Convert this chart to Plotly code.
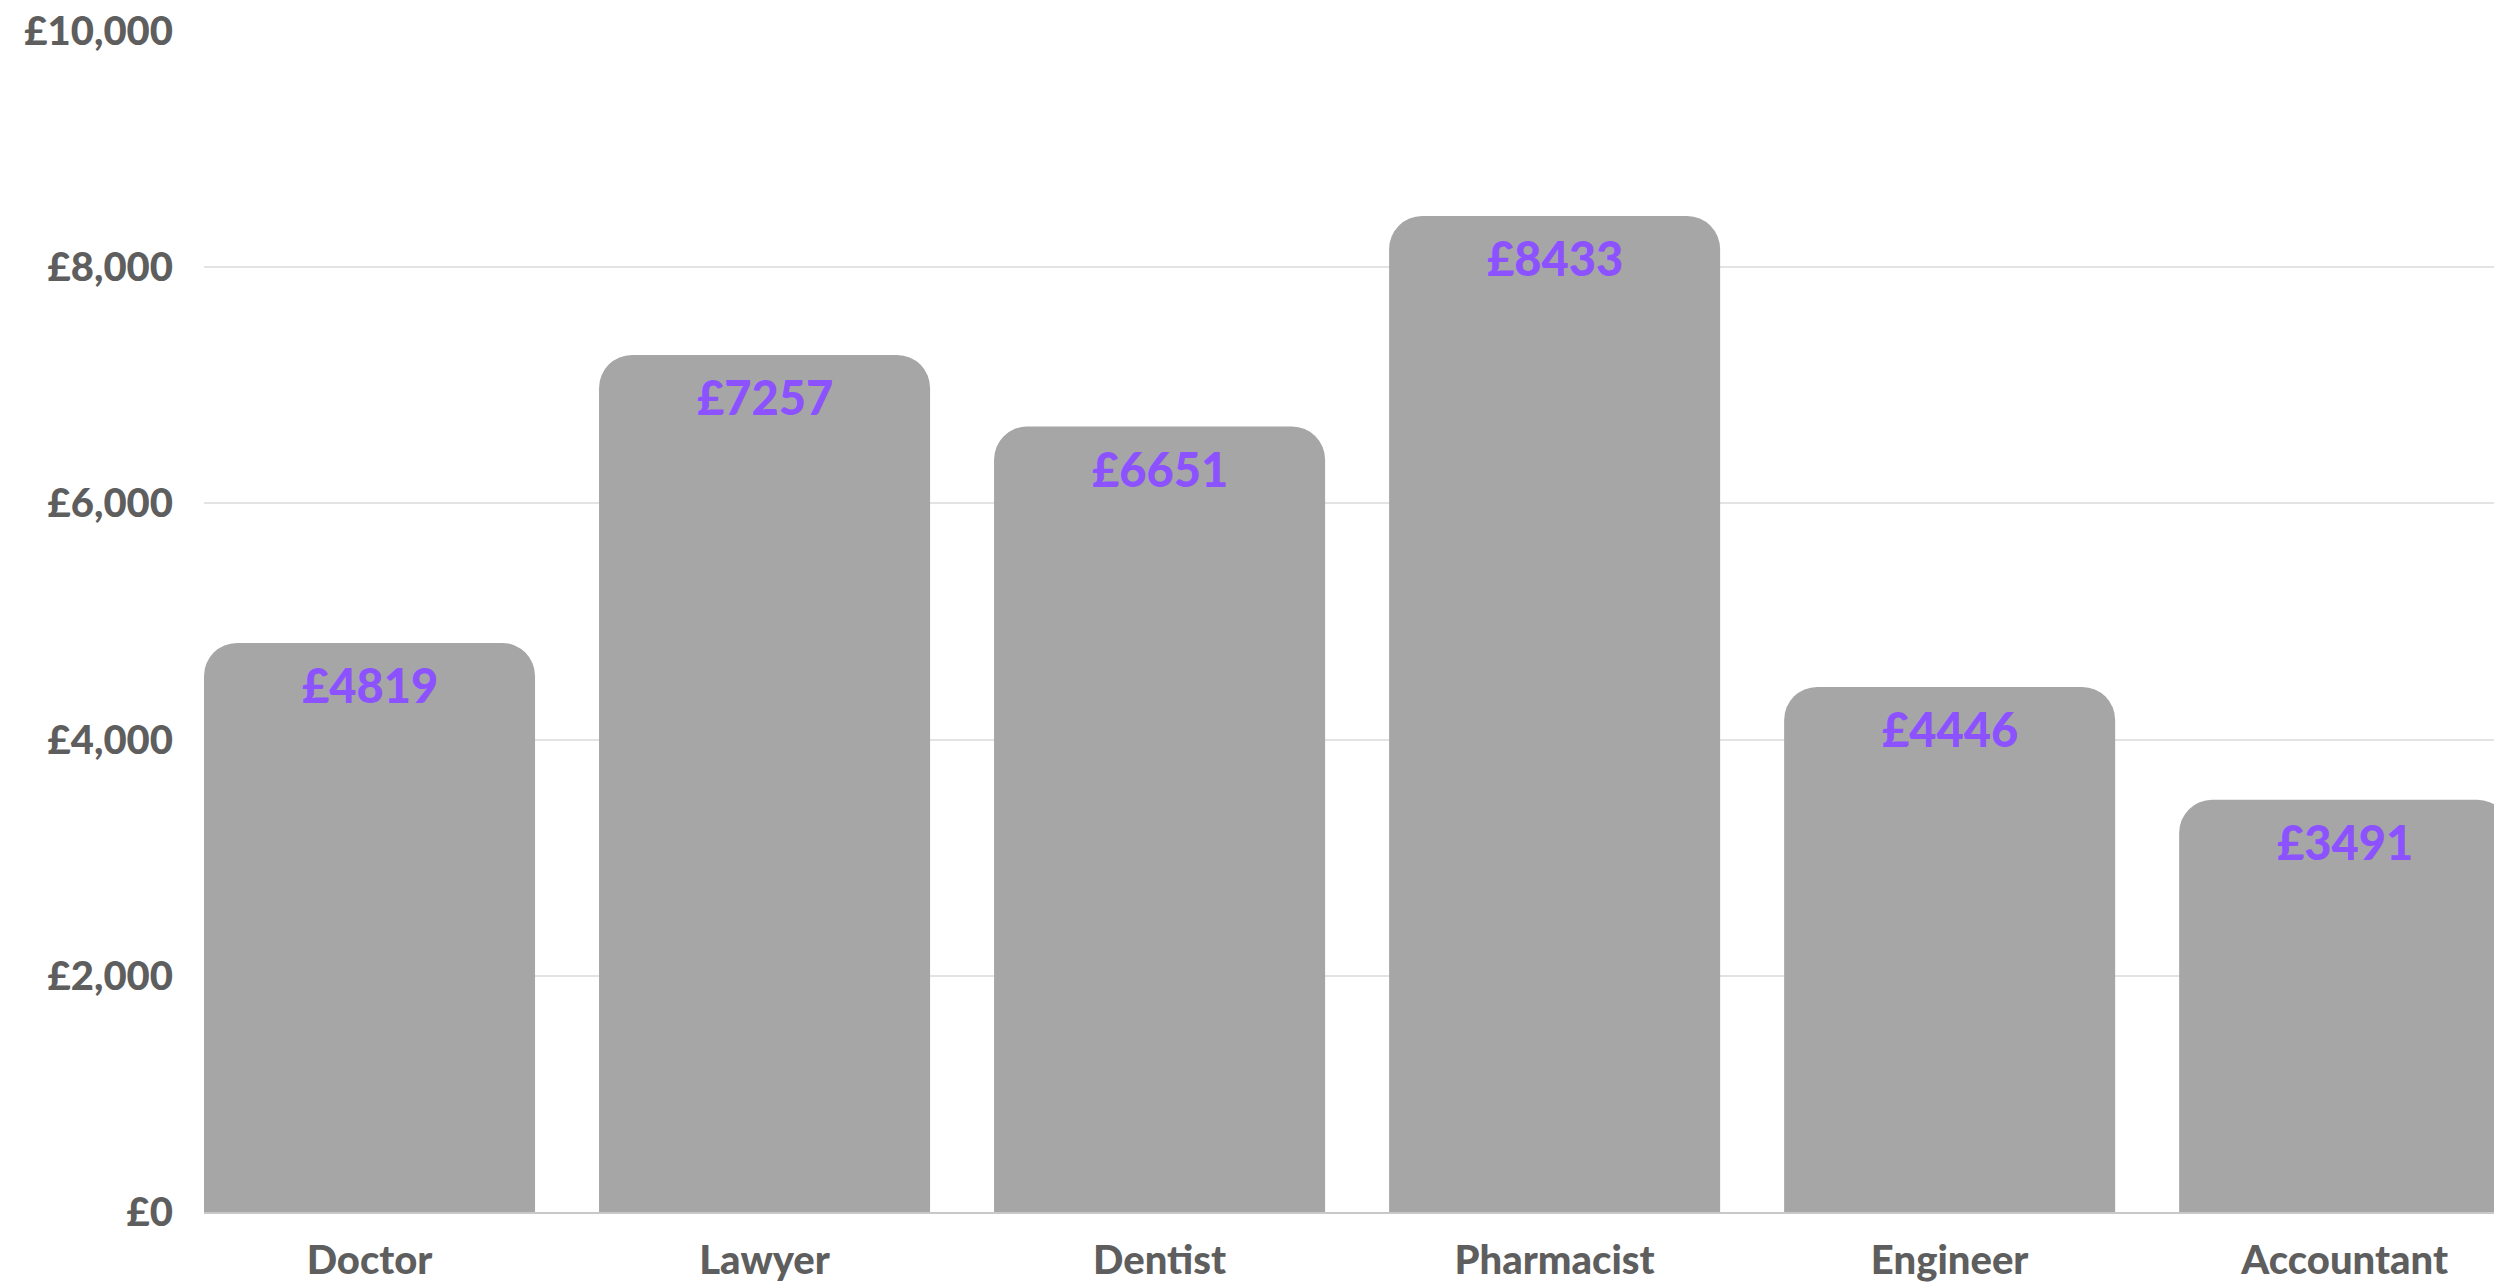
import plotly.graph_objects as go

categories = ["Doctor", "Lawyer", "Dentist", "Pharmacist", "Engineer", "Accountant"]
values = [4819, 7257, 6651, 8433, 4446, 3491]
y_tickvals = [0, 2000, 4000, 6000, 8000, 10000]
y_ticktext = ["£0", "£2,000", "£4,000", "£6,000", "£8,000", "£10,000"]

FONT = "Lato"
GREY_TEXT = "#5e5e5e"
PURPLE = "#8c52ff"

fig = go.Figure(
    go.Bar(
        x=categories,
        y=values,
        marker=dict(color="#a6a6a6", cornerradius=33, line=dict(width=0)),
        hoverinfo="skip",
    )
)

for c, v in zip(categories, values):
    fig.add_annotation(
        x=c, y=v, xref="x", yref="y",
        text=f"£{v}",
        showarrow=False,
        yanchor="middle",
        yshift=-42,
        font=dict(family=FONT, size=47, color=PURPLE, weight=900),
    )

fig.update_layout(
    width=2494,
    height=1283,
    margin=dict(l=204, r=0, t=31, b=69, pad=0),
    paper_bgcolor="white",
    plot_bgcolor="white",
    bargap=0.162,
    showlegend=False,
    font=dict(family=FONT, color=GREY_TEXT),
)

fig.update_xaxes(
    range=[-0.419, 5.378],
    showgrid=False,
    showline=True,
    linecolor="#c8c8c8",
    linewidth=2,
    ticks="",
    tickfont=dict(family=FONT, size=40, color=GREY_TEXT, weight=900),
    ticklabelstandoff=12,
)

fig.update_yaxes(
    range=[0, 10000],
    tickvals=y_tickvals,
    ticktext=y_ticktext,
    showgrid=True,
    gridcolor="#e3e3e3",
    gridwidth=2,
    zeroline=False,
    showline=False,
    ticks="",
    tickfont=dict(family=FONT, size=40, color=GREY_TEXT, weight=900),
    ticklabelstandoff=30,
)

fig.write_html("out.html")
